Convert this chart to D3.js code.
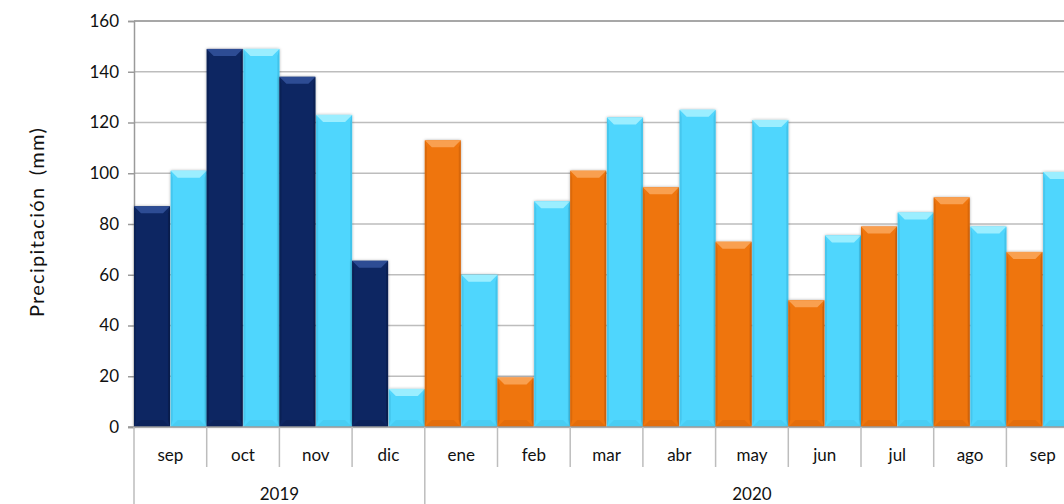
<!DOCTYPE html>
<html>
<head>
<meta charset="utf-8">
<script src="https://cdn.jsdelivr.net/npm/d3@7"></script>
<style>
  body { margin: 0; background: #fff; overflow: hidden; }
  text { font-family: "Lato", "Open Sans", sans-serif; fill: #111; }
</style>
</head>
<body>
<svg id="chart" width="1064" height="504"></svg>
<script>
// Data
const months = ["sep", "oct", "nov", "dic", "ene", "feb", "mar", "abr", "may", "jun", "jul", "ago", "sep"];
const years = ["2019", "2019", "2019", "2019", "2020", "2020", "2020", "2020", "2020", "2020", "2020", "2020", "2020"];
const observed = [87, 149, 138, 65.5, 113, 19.5, 101, 94.5, 73, 50, 79, 90.5, 69];
const normal = [101, 149, 123, 15, 60, 89, 122, 125, 121, 75.5, 84.5, 79, 100.5];
const yTicks = [0, 20, 40, 60, 80, 100, 120, 140, 160];

const svg = d3.select("#chart");
const plotLeft = 134, plotTop = 21, plotBottom = 427;
const catW = 72.7;

const x0 = d3.scaleBand()
    .domain(d3.range(months.length))
    .range([plotLeft, plotLeft + catW * months.length])
    .padding(0);
const x1 = d3.scaleBand()
    .domain(["obs", "norm"])
    .range([0, x0.bandwidth()])
    .paddingInner(0.02);
const y = d3.scaleLinear().domain([0, 160]).range([plotBottom, plotTop]);

// shadow filter
const defs = svg.append("defs");
const filt = defs.append("filter").attr("id", "sh").attr("x", "-20%").attr("y", "-10%").attr("width", "140%").attr("height", "120%");
filt.append("feDropShadow").attr("dx", 0).attr("dy", 0).attr("stdDeviation", 1.5).attr("flood-color", "#000").attr("flood-opacity", 0.35);

// gridlines
svg.append("g")
    .selectAll("line")
    .data(yTicks.filter(d => d > 0))
    .enter()
    .append("line")
    .attr("x1", plotLeft)
    .attr("x2", 1064)
    .attr("y1", d => y(d))
    .attr("y2", d => y(d))
    .attr("stroke", d => d === 160 ? "#8a8a8a" : "#bdbdbd")
    .attr("stroke-width", 1.5);

// y axis
const yAxis = svg.append("g")
    .attr("transform", `translate(${plotLeft},0)`)
    .call(d3.axisLeft(y).tickValues(yTicks).tickSize(6).tickPadding(9));
yAxis.select(".domain").attr("stroke", "#9a9a9a").attr("stroke-width", 1.5);
yAxis.selectAll(".tick line").attr("stroke", "#9a9a9a").attr("stroke-width", 1.5);
yAxis.selectAll(".tick text").style("font-size", "17px").attr("fill", "#111");

// y axis title
svg.append("text")
    .attr("transform", `translate(44, ${(plotTop + plotBottom) / 2 - 2}) rotate(-90)`)
    .attr("text-anchor", "middle")
    .style("font-size", "20px")
    .style("letter-spacing", "1.3px")
    .style("word-spacing", "5px")
    .text("Precipitación (mm)");

// bars
const palette = {
    "2019": {base: "#0c2562", light: "#2d4c94", dark: "#081b48"},
    "2020": {base: "#ef7411", light: "#f9a050", dark: "#c85e08"},
    "norm": {base: "#4fd6fd", light: "#9beeff", dark: "#3bb8df"}
};

const rows = [];
months.forEach((m, i) => {
    rows.push({i: i, key: "obs", value: observed[i], col: palette[years[i]]});
    rows.push({i: i, key: "norm", value: normal[i], col: palette.norm});
});

const bars = svg.append("g")
    .selectAll("g.bar")
    .data(rows)
    .enter()
    .append("g")
    .attr("class", "bar");

bars.each(function(d) {
    const g = d3.select(this);
    const bx = x0(d.i) + x1(d.key);
    const bw = x1.bandwidth();
    const by = y(d.value);
    const bh = plotBottom - by;
    const bev = Math.min(7, bh / 2);
    g.append("rect")
        .attr("x", bx).attr("y", by).attr("width", bw).attr("height", bh)
        .attr("fill", d.col.base)
        .attr("filter", "url(#sh)");
    // top bevel
    g.append("path")
        .attr("d", `M${bx},${by} L${bx + bw},${by} L${bx + bw - bev},${by + bev} L${bx + bev},${by + bev} Z`)
        .attr("fill", d.col.light);
    // side bevels
    g.append("path")
        .attr("d", `M${bx},${by} L${bx + 2},${by + bev} L${bx + 2},${plotBottom - bev} L${bx},${plotBottom} Z`)
        .attr("fill", d.col.dark).attr("opacity", 0.5);
    g.append("path")
        .attr("d", `M${bx + bw},${by} L${bx + bw - 2},${by + bev} L${bx + bw - 2},${plotBottom - bev} L${bx + bw},${plotBottom} Z`)
        .attr("fill", d.col.dark).attr("opacity", 0.6);
    // bottom bevel
    g.append("path")
        .attr("d", `M${bx},${plotBottom} L${bx + bw},${plotBottom} L${bx + bw - bev},${plotBottom - bev} L${bx + bev},${plotBottom - bev} Z`)
        .attr("fill", d.col.dark).attr("opacity", 0.3);
});

// x axis line
svg.append("line")
    .attr("x1", plotLeft - 6).attr("x2", 1064)
    .attr("y1", plotBottom).attr("y2", plotBottom)
    .attr("stroke", "#9a9a9a").attr("stroke-width", 1.5);

// month labels
svg.append("g")
    .selectAll("text")
    .data(months)
    .enter()
    .append("text")
    .attr("x", (d, i) => x0(i) + x0.bandwidth() / 2)
    .attr("y", 461)
    .attr("text-anchor", "middle")
    .style("font-size", "17px")
    .text(d => d);

// separators between months
const yearStarts = d3.range(months.length + 1).filter(i => i === 0 || i === months.length || years[i] !== years[i - 1]);
svg.append("g")
    .selectAll("line")
    .data(d3.range(months.length + 1))
    .enter()
    .append("line")
    .attr("x1", i => i < months.length ? x0(i) : x0(i - 1) + x0.bandwidth())
    .attr("x2", i => i < months.length ? x0(i) : x0(i - 1) + x0.bandwidth())
    .attr("y1", plotBottom)
    .attr("y2", i => yearStarts.includes(i) ? 504 : 467)
    .attr("stroke", "#bdbdbd")
    .attr("stroke-width", 1.5);

// year labels
const yearGroups = d3.groups(d3.range(months.length), i => years[i]);
svg.append("g")
    .selectAll("text")
    .data(yearGroups)
    .enter()
    .append("text")
    .attr("x", d => (x0(d[1][0]) + x0(d[1][d[1].length - 1]) + x0.bandwidth()) / 2)
    .attr("y", 500)
    .attr("text-anchor", "middle")
    .style("font-size", "17px")
    .text(d => d[0]);
</script>
</body>
</html>
